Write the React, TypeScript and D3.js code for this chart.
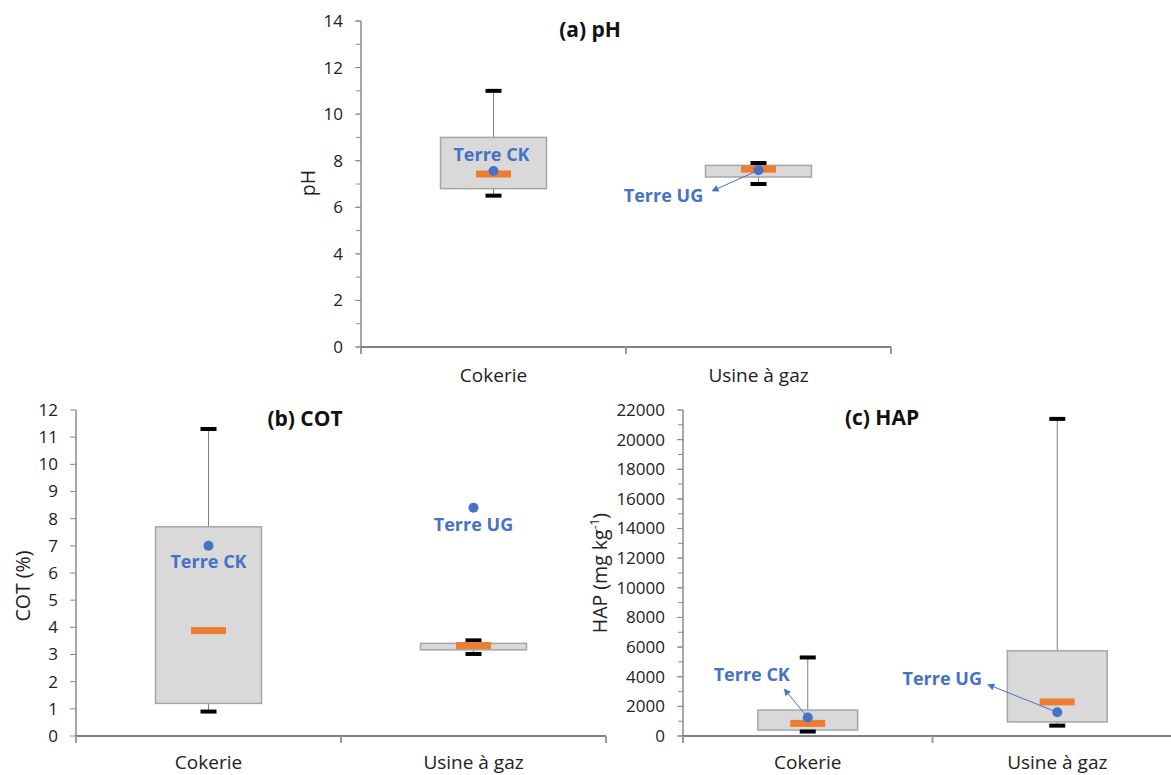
import React from "react";
import * as d3 from "d3";

const categories = ["Cokerie", "Usine à gaz"];
const terreLabels = ["Terre CK", "Terre UG"];

// (a) pH
const phLow = [6.5, 7.0];
const phQ1 = [6.8, 7.3];
const phMedian = [7.43, 7.64];
const phQ3 = [9.0, 7.8];
const phHigh = [11.0, 7.9];
const phTerre = [7.56, 7.59];
const phTicks = [0, 2, 4, 6, 8, 10, 12, 14];

// (b) COT
const cotLow = [0.9, 3.02];
const cotQ1 = [1.2, 3.17];
const cotMedian = [3.88, 3.33];
const cotQ3 = [7.7, 3.41];
const cotHigh = [11.3, 3.52];
const cotTerre = [7.0, 8.4];
const cotTicks = [0, 1, 2, 3, 4, 5, 6, 7, 8, 9, 10, 11, 12];

// (c) HAP
const hapLow = [300, 700];
const hapQ1 = [400, 950];
const hapMedian = [850, 2300];
const hapQ3 = [1750, 5750];
const hapHigh = [5300, 21400];
const hapTerre = [1250, 1600];
const hapTicks = [0, 2000, 4000, 6000, 8000, 10000, 12000, 14000, 16000, 18000, 20000, 22000];

const FONT = "'Open Sans', 'Noto Sans', sans-serif";
const BLUE = "#4472C4";
const ORANGE = "#ED7D31";

type Panel = {
  title: string;
  yTitle: React.ReactNode;
  low: number[];
  q1: number[];
  median: number[];
  q3: number[];
  high: number[];
  terre: number[];
  ticks: number[];
  minorStep: number;
  domain: [number, number];
  x0: number;
  x1: number;
  yTop: number;
  yBottom: number;
  titleX: number;
  titleY: number;
  yTitleX: number;
  yTitleY: number;
  catLabelY: number;
  labelOffsets: [number, number][];
  arrowEnds: ([number, number] | null)[];
};

const panels: Panel[] = [
  {
    title: "(a) pH",
    yTitle: "pH",
    low: phLow, q1: phQ1, median: phMedian, q3: phQ3, high: phHigh, terre: phTerre,
    ticks: phTicks, minorStep: 1, domain: [0, 14],
    x0: 361, x1: 891, yTop: 21, yBottom: 347,
    titleX: 590, titleY: 37, yTitleX: 315, yTitleY: 183, catLabelY: 382,
    labelOffsets: [[-2, -10], [-95, 32]],
    arrowEnds: [null, [-47, 21]],
  },
  {
    title: "(b) COT",
    yTitle: "COT (%)",
    low: cotLow, q1: cotQ1, median: cotMedian, q3: cotQ3, high: cotHigh, terre: cotTerre,
    ticks: cotTicks, minorStep: 0, domain: [0, 12],
    x0: 76, x1: 606, yTop: 410, yBottom: 736,
    titleX: 305, titleY: 426, yTitleX: 30, yTitleY: 586, catLabelY: 769,
    labelOffsets: [[0, 22], [0, 23]],
    arrowEnds: [null, null],
  },
  {
    title: "(c) HAP",
    yTitle: (
      <>
        HAP (mg kg
        <tspan baselineShift="super" fontSize="12">-1</tspan>
        )
      </>
    ),
    low: hapLow, q1: hapQ1, median: hapMedian, q3: hapQ3, high: hapHigh, terre: hapTerre,
    ticks: hapTicks, minorStep: 1000, domain: [0, 22000],
    x0: 683, x1: 1182, yTop: 410, yBottom: 736,
    titleX: 882, titleY: 425, yTitleX: 607, yTitleY: 573, catLabelY: 769,
    labelOffsets: [[-56, -36], [-115, -27]],
    arrowEnds: [[-24, -29], [-70, -28]],
  },
];

function PanelChart({ p }: { p: Panel }) {
  const x = d3.scaleBand<string>().domain(categories).range([p.x0, p.x1]).padding(0);
  const y = d3.scaleLinear().domain(p.domain).range([p.yBottom, p.yTop]);
  const bw = x.bandwidth() * 0.4;
  const medW = 35;
  const medH = 7;
  const capW = 16;
  const capH = 4;
  const minorTicks =
    p.minorStep > 0 ? d3.range(p.domain[0], p.domain[1] + 1e-9, p.minorStep) : [];
  const boundaries = [p.x0, ...categories.map((c) => (x(c) as number) + x.bandwidth())];
  const fmt = d3.format("d");

  return (
    <g>
      <text x={p.titleX} y={p.titleY} textAnchor="middle" fontFamily={FONT} fontWeight={700} fontSize={21} fill="#111">
        {p.title}
      </text>
      <text
        transform={`translate(${p.yTitleX},${p.yTitleY}) rotate(-90)`}
        textAnchor="middle"
        fontFamily={FONT}
        fontSize={19.5}
        fill="#222"
      >
        {p.yTitle}
      </text>
      {minorTicks.map((t, i) => (
        <line key={"mi" + i} x1={p.x0 - 5} x2={p.x0} y1={y(t)} y2={y(t)} stroke="#8a8a8a" strokeWidth={1} />
      ))}
      {p.ticks.map((t, i) => (
        <g key={"ma" + i}>
          <line x1={p.x0 - 6} x2={p.x0} y1={y(t)} y2={y(t)} stroke="#8a8a8a" strokeWidth={1} />
          <text
            x={p.x0 - 18}
            y={y(t)}
            dy="0.35em"
            textAnchor="end"
            fontFamily={FONT}
            fontSize={17}
            fill="#222"
          >
            {fmt(t)}
          </text>
        </g>
      ))}
      <line x1={p.x0} x2={p.x0} y1={p.yTop} y2={p.yBottom + 6} stroke="#8a8a8a" strokeWidth={1.5} />
      <line x1={p.x0} x2={p.x1} y1={p.yBottom} y2={p.yBottom} stroke="#595959" strokeWidth={1.4} />
      {boundaries.map((bx, i) => (
        <line key={"bt" + i} x1={bx} x2={bx} y1={p.yBottom} y2={p.yBottom + 7} stroke="#9a9a9a" strokeWidth={2} />
      ))}
      {categories.map((c) => (
        <text
          key={"cl" + c}
          x={(x(c) as number) + x.bandwidth() / 2}
          y={p.catLabelY}
          textAnchor="middle"
          fontFamily={FONT}
          fontSize={19}
          fill="#222"
        >
          {c}
        </text>
      ))}
      {categories.map((c, i) => {
        const cx = (x(c) as number) + x.bandwidth() / 2;
        return (
          <g key={"bx" + c}>
            <line x1={cx} x2={cx} y1={y(p.high[i])} y2={y(p.q3[i])} stroke="#7f7f7f" strokeWidth={1} />
            <line x1={cx} x2={cx} y1={y(p.q1[i])} y2={y(p.low[i])} stroke="#7f7f7f" strokeWidth={1} />
            <rect
              x={cx - bw / 2}
              y={y(p.q3[i])}
              width={bw}
              height={y(p.q1[i]) - y(p.q3[i])}
              fill="#D9D9D9"
              stroke="#A6A6A6"
              strokeWidth={1.5}
            />
            <rect x={cx - capW / 2} y={y(p.high[i]) - capH / 2} width={capW} height={capH} fill="#000" />
            <rect x={cx - capW / 2} y={y(p.low[i]) - capH / 2} width={capW} height={capH} fill="#000" />
            <rect x={cx - medW / 2} y={y(p.median[i]) - medH / 2} width={medW} height={medH} fill={ORANGE} />
          </g>
        );
      })}
      {categories.map((c, i) => {
        const cx = (x(c) as number) + x.bandwidth() / 2;
        const cy = y(p.terre[i]);
        const [lx, ly] = p.labelOffsets[i];
        const ae = p.arrowEnds[i];
        let arrow = null;
        if (ae) {
          const ex = cx + ae[0];
          const ey = cy + ae[1];
          const ang = Math.atan2(ey - cy, ex - cx);
          const L = 7;
          const Wd = 3.5;
          const bx = ex - L * Math.cos(ang);
          const by = ey - L * Math.sin(ang);
          const px = -Math.sin(ang) * Wd;
          const py = Math.cos(ang) * Wd;
          arrow = (
            <g>
              <line x1={cx} y1={cy} x2={bx} y2={by} stroke={BLUE} strokeWidth={1} />
              <path d={`M${ex},${ey}L${bx + px},${by + py}L${bx - px},${by - py}Z`} fill={BLUE} />
            </g>
          );
        }
        return (
          <g key={"tp" + c}>
            {arrow}
            <circle cx={cx} cy={cy} r={5} fill={BLUE} />
            <text
              x={cx + lx}
              y={cy + ly}
              textAnchor="middle"
              fontFamily={FONT}
              fontWeight={700}
              fontSize={18}
              fill={BLUE}
            >
              {terreLabels[i]}
            </text>
          </g>
        );
      })}
    </g>
  );
}

export default function App() {
  return (
    <svg
      width={1171}
      height={775}
      viewBox="0 0 1171 775"
      style={{ position: "absolute", left: 0, top: 0, background: "#fff" }}
    >
      <rect x={0} y={0} width={1171} height={775} fill="#fff" />
      {panels.map((p, i) => (
        <PanelChart key={i} p={p} />
      ))}
    </svg>
  );
}
